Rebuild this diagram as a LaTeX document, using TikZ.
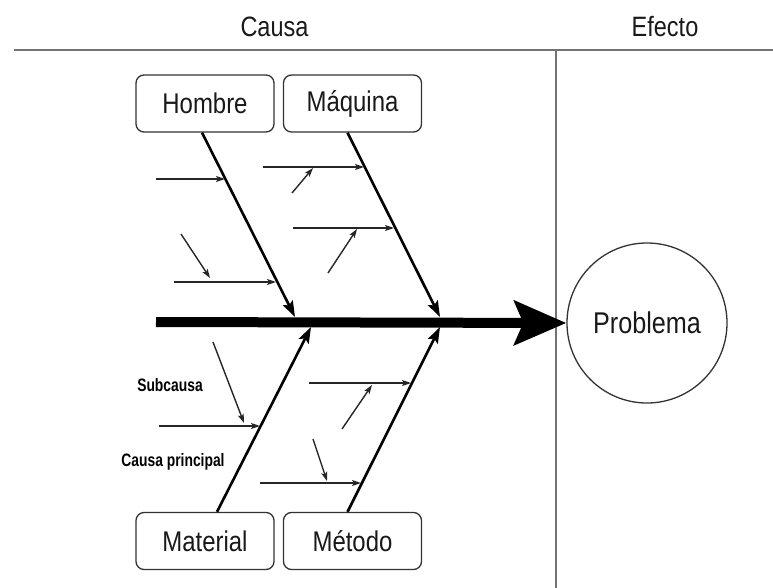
\documentclass[tikz,border=0pt]{standalone}
\usepackage{fontspec}
\setmainfont{Liberation Sans}[FakeStretch=0.84]
\newfontfamily\subf{Liberation Sans}[FakeStretch=0.77]
\usetikzlibrary{arrows.meta}
\tikzset{
  catbox/.style={draw=black!80, line width=1.3pt, rounded corners=8pt, minimum width=138pt, minimum height=57pt, inner sep=0pt, font=\fontsize{28.5}{32}\selectfont, text=black!90},
  bone/.style={line width=2.6pt, -{Stealth[length=16pt,width=11pt,inset=3pt]}},
  sub/.style={line width=1.4pt, draw=black!85, -{Stealth[length=9pt,width=6pt,inset=2pt]}},
  frame/.style={draw=black!55, line width=2pt},
  hdr/.style={font=\fontsize{28}{32}\selectfont, text=black!90, inner sep=0pt, anchor=base},
  note/.style={font=\subf\bfseries\fontsize{18}{20}\selectfont, inner sep=0pt, anchor=base}
}
\begin{document}
\begin{tikzpicture}[x=1pt,y=-1pt]
\useasboundingbox (0,0) rectangle (773,588);
% frame
\coordinate (fl) at (14,50);
\coordinate (fr) at (773,50);
\coordinate (vt) at (556,50);
\coordinate (vb) at (556,588);
\draw[frame] (fl) -- (fr);
\draw[frame] (vt) -- (vb);
\node[hdr] (causa) at (274.5,37) {Causa};
\node[hdr] (efecto) at (665,37) {Efecto};
% effect
\node[draw=black!80, line width=1.3pt, circle, minimum size=160pt, inner sep=0pt, font=\fontsize{30}{34}\selectfont, text=black!90] (prob) at (647,323) {Problema};
% spine
\coordinate (sp0) at (156,322);
\draw[line width=10pt, -{Stealth[length=52pt,width=44pt,inset=9pt]}] (sp0) -- (prob.west);
% boxes
\node[catbox] (hombre) at (205,103.5) {Hombre};
\node[catbox] (maquina) at (352.5,103.5) {Máquina};
\node[catbox] (material) at (205,541) {Material};
\node[catbox] (metodo) at (352.5,541) {Método};
% bone ends
\coordinate (hE) at (295,317);
\coordinate (mE) at (440,317);
\coordinate (tE) at (311,327);
\coordinate (dE) at (440,327);
\draw[bone] ([xshift=-3pt]hombre.south) -- (hE);
\draw[bone] ([xshift=-5pt]maquina.south) -- (mE);
\draw[bone] ([xshift=12pt]material.north) -- (tE);
\draw[bone] ([xshift=-5pt]metodo.north) -- (dE);
% sub-causes Hombre
\coordinate (a1s) at (156,179); \coordinate (a1e) at (225,179);
\coordinate (a2s) at (174,282); \coordinate (a2e) at (276,282);
\coordinate (a3s) at (181,234); \coordinate (a3e) at (210,278);
\draw[sub] (a1s) -- (a1e);
\draw[sub] (a2s) -- (a2e);
\draw[sub] (a3s) -- (a3e);
% Maquina
\coordinate (b1s) at (263,167); \coordinate (b1e) at (364,167);
\coordinate (b2s) at (292,193); \coordinate (b2e) at (313,168);
\coordinate (b3s) at (293,228); \coordinate (b3e) at (394,228);
\coordinate (b4s) at (328,273); \coordinate (b4e) at (357,229);
\draw[sub] (b1s) -- (b1e);
\draw[sub] (b2s) -- (b2e);
\draw[sub] (b3s) -- (b3e);
\draw[sub] (b4s) -- (b4e);
% Material
\coordinate (c1s) at (159,426); \coordinate (c1e) at (260,426);
\coordinate (c2s) at (213,342); \coordinate (c2e) at (244,423);
\draw[sub] (c1s) -- (c1e);
\draw[sub] (c2s) -- (c2e);
% Metodo
\coordinate (d1s) at (309,383); \coordinate (d1e) at (411,383);
\coordinate (d2s) at (342,429); \coordinate (d2e) at (372,385);
\coordinate (d3s) at (260,483); \coordinate (d3e) at (361,483);
\coordinate (d4s) at (313,439); \coordinate (d4e) at (327,481);
\draw[sub] (d1s) -- (d1e);
\draw[sub] (d2s) -- (d2e);
\draw[sub] (d3s) -- (d3e);
\draw[sub] (d4s) -- (d4e);
% labels
\node[note] (subcausa) at (170,391) {Subcausa};
\node[note] (cprin) at (173,466) {Causa principal};
\end{tikzpicture}
\end{document}
